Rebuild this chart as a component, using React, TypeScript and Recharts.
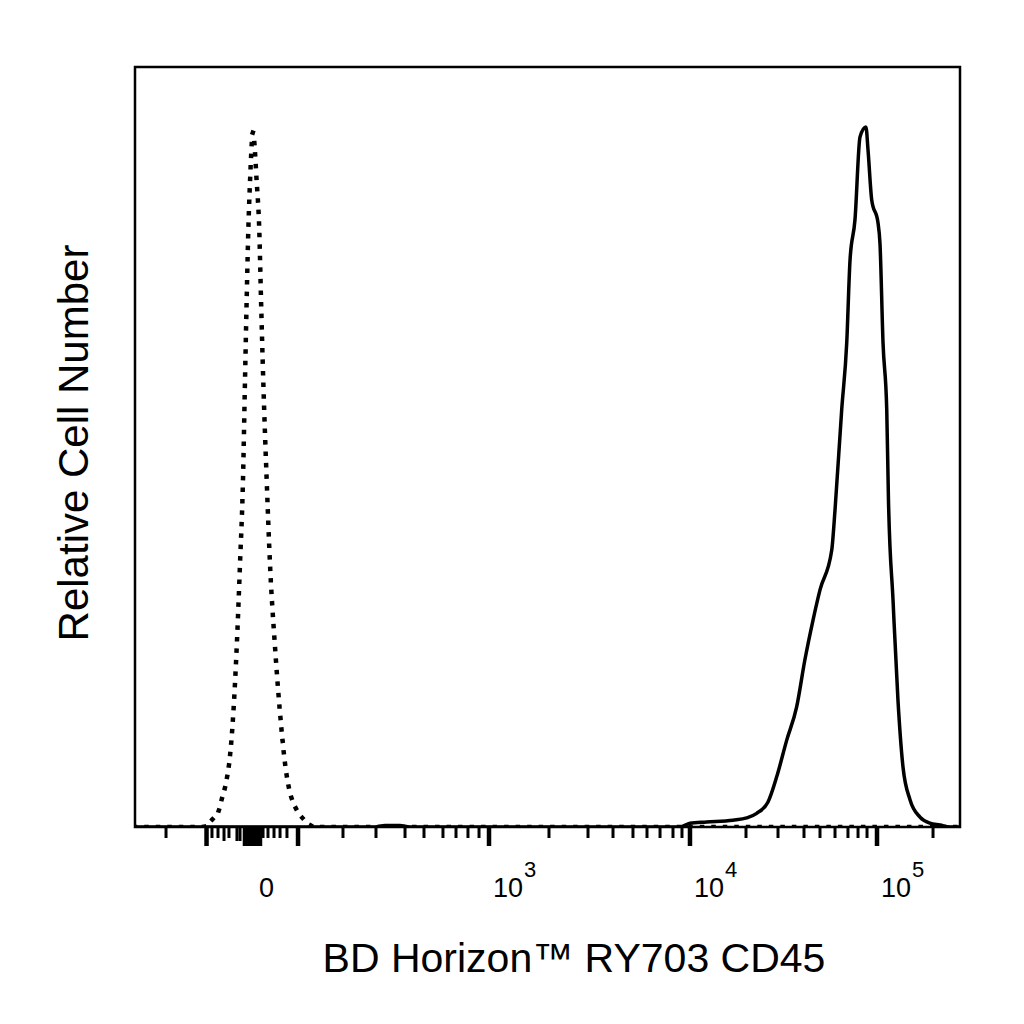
import React from 'react';
import { LineChart, Line, XAxis, YAxis, ReferenceArea } from 'recharts';

// x values are display channels (0..1000 across the plot), y values are relative cell number (0..100)
const ISOTYPE_X = [0, 78.8, 87.3, 93, 101, 105, 111, 115, 119.2, 123.3, 127.3, 130.9, 133.3, 135.4, 137.3, 139.4, 143, 147.5, 150.7, 152.7, 155.5, 159.6, 163.6, 169.7, 175.8, 181.8, 187.9, 191.9, 200, 208, 214.5, 224, 1000];
const ISOTYPE_Y = [0, 0, 0.13, 0.9, 2.0, 3.6, 6.2, 9.2, 15.0, 23.7, 34.7, 45.7, 58.6, 69.6, 78.3, 84.9, 91.4, 84.9, 78.3, 69.6, 58.6, 45.7, 34.7, 23.7, 15.0, 8.4, 4.5, 3.2, 1.6, 0.66, 0.13, 0, 0];

const CD45_X = [0, 291, 303, 321, 333, 660.6, 672.7, 693, 724.8, 741.5, 753.6, 767.3, 777.8, 789.9, 802, 812, 821.8, 830.3, 844.5, 848.5, 856.6, 862.7, 866.7, 872.7, 878.8, 886, 888.5, 893, 900.6, 903, 906.7, 911.2, 913.3, 918.8, 924.8, 930.9, 939.4, 951.5, 963.6, 975.8, 987.9, 1000];
const CD45_Y = [0, 0, 0.2, 0.2, 0, 0, 0.5, 0.66, 0.9, 1.2, 1.8, 3.3, 6.6, 11.4, 15.8, 22.0, 27.2, 31.2, 36.4, 41.7, 54.9, 63.7, 74.6, 79.9, 90.8, 92.1, 89.1, 82.5, 79.5, 76.8, 63.7, 54.9, 43.0, 29.9, 16.7, 7.9, 3.6, 1.3, 0.5, 0.26, 0, 0];

const MAJOR_TICKS = [86.7, 133.3, 136.4, 139.4, 142.4, 145.5, 148.5, 151.5, 197.6, 429.1, 672.7, 899.4];
const MEDIUM_TICKS = [107.9, 123.6, 127.3];
const MINOR_TICKS = [37.6, 93.3, 100.6, 113.9, 155.2, 161.2, 168.5, 175.8, 184.2, 252.1, 292.1, 327.3, 350.3, 373.3, 389.1, 403.6, 417, 501.8, 549.1, 579.4, 603.6, 620.6, 636.4, 652.1, 663, 740.6, 779.4, 810.9, 830.3, 848.5, 864.2, 876.4, 887.3, 967.3];

const LABEL_AT = [145.5, 429.1, 672.7, 899.4];
const LABEL_BASE = ['0', '10', '10', '10'];
const LABEL_EXP = ['', '3', '4', '5'];

const X_TITLE = 'BD Horizon™ RY703 CD45';
const Y_TITLE = 'Relative Cell Number';

const isoData = ISOTYPE_X.map((x, i) => ({ x, y: ISOTYPE_Y[i] }));
const cd45Data = CD45_X.map((x, i) => ({ x, y: CD45_Y[i] }));
const ALL_TICKS = [...MINOR_TICKS, ...MEDIUM_TICKS, ...MAJOR_TICKS].sort((a, b) => a - b);

const FONT = '"Liberation Sans", Arial, Helvetica, sans-serif';

const close = (a: number, b: number) => Math.abs(a - b) < 0.01;

const FlowTick = (props: any) => {
  const { x, y, payload } = props;
  const v = payload.value;
  const isMajor = MAJOR_TICKS.some((t) => close(t, v));
  const isMedium = MEDIUM_TICKS.some((t) => close(t, v));
  const len = isMajor ? 19 : isMedium ? 14 : 11;
  const w = isMajor ? 4.5 : 3;
  const li = LABEL_AT.findIndex((t) => close(t, v));
  return (
    <g>
      <line x1={x} y1={y} x2={x} y2={y + len} stroke="#000" strokeWidth={w} />
      {li >= 0 && (
        <text x={x + 4} y={y + 70} fontSize={27} fontFamily={FONT} fill="#000" textAnchor="start">
          {LABEL_BASE[li]}
          {LABEL_EXP[li] && (
            <tspan dx={1} dy={-20} fontSize={22}>
              {LABEL_EXP[li]}
            </tspan>
          )}
        </text>
      )}
    </g>
  );
};

export default function App() {
  return (
    <div style={{ position: 'absolute', left: 0, top: 0, width: 1024, height: 1024, background: '#fff' }}>
      <LineChart width={1024} height={1024} margin={{ top: 67, right: 64, bottom: 137, left: 135 }}>
        <XAxis
          type="number"
          dataKey="x"
          domain={[0, 1000]}
          ticks={ALL_TICKS}
          interval={0}
          tick={FlowTick}
          tickLine={false}
          tickSize={0}
          tickMargin={0}
          height={60}
          axisLine={{ stroke: '#000', strokeWidth: 2 }}
          allowDataOverflow
        />
        <YAxis type="number" domain={[0, 100]} hide allowDataOverflow />
        <ReferenceArea x1={0} x2={1000} y1={0} y2={100} fill="none" fillOpacity={0} stroke="#000" strokeWidth={2.5} ifOverflow="visible" />
        <Line
          data={isoData}
          dataKey="y"
          type="monotone"
          stroke="#000"
          strokeWidth={4.5}
          strokeDasharray="0.01 11.5"
          strokeLinecap="square"
          dot={false}
          activeDot={false}
          isAnimationActive={false}
        />
        <Line
          data={cd45Data}
          dataKey="y"
          type="monotone"
          stroke="#000"
          strokeWidth={3.5}
          strokeLinejoin="round"
          dot={false}
          activeDot={false}
          isAnimationActive={false}
        />
      </LineChart>
      <svg width={1024} height={1024} style={{ position: 'absolute', left: 0, top: 0, pointerEvents: 'none' }}>
        <text x={574} y={972} fontSize={41} fontFamily={FONT} textAnchor="middle" fill="#000">
          {X_TITLE}
        </text>
        <text x={88} y={443} fontSize={42} fontFamily={FONT} textAnchor="middle" fill="#000" transform="rotate(-90 88 443)">
          {Y_TITLE}
        </text>
      </svg>
    </div>
  );
}
